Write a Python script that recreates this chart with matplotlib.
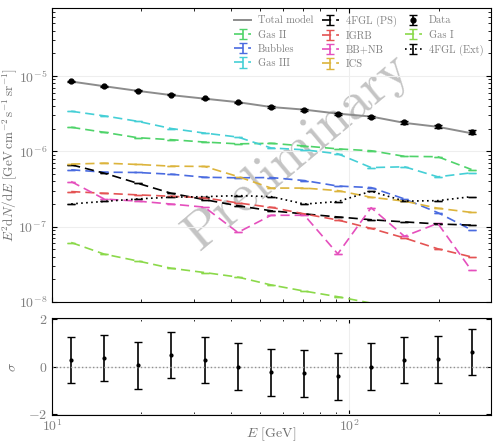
import numpy as np
import matplotlib.pyplot as plt

plt.rcParams.update({
    'font.family': 'cmr10',
    'mathtext.fontset': 'cm',
    'axes.formatter.use_mathtext': True,
    'font.size': 10,
    'xtick.direction': 'in',
    'ytick.direction': 'in',
    'xtick.top': True,
    'ytick.right': True,
    'xtick.major.pad': 2.5,
    'xtick.color': 'black',
    'ytick.color': 'black',
    'xtick.labelcolor': '#808080',
    'ytick.labelcolor': '#808080',
    'axes.labelcolor': '#707070',
})

# Energy bin centres [GeV]
energy = [11.6, 15.0, 19.4, 25.2, 32.6, 42.2, 54.6, 70.7, 91.5, 118.5, 153.4, 198.6, 257.9]

# Data and total model
data = [8.5e-6, 7.36e-6, 6.37e-6, 5.63e-6, 5.04e-6, 4.50e-6, 3.86e-6,
        3.56e-6, 3.14e-6, 2.90e-6, 2.42e-6, 2.15e-6, 1.81e-6]
data_err = [1.3e-7, 1.2e-7, 1.1e-7, 1.0e-7, 9.5e-8, 9.0e-8, 8.5e-8,
            8.5e-8, 8.5e-8, 8.5e-8, 9.0e-8, 9.5e-8, 1.1e-7]
total_model = [8.46e-6, 7.32e-6, 6.36e-6, 5.58e-6, 5.01e-6, 4.50e-6, 3.88e-6,
               3.58e-6, 3.17e-6, 2.90e-6, 2.39e-6, 2.12e-6, 1.74e-6]

# Model components
gas1 = [6.18e-8, 4.33e-8, 3.52e-8, 2.81e-8, 2.47e-8, 2.15e-8, 1.69e-8,
        1.40e-8, 1.18e-8, 9.7e-9, 8.0e-9, 6.5e-9, 5.3e-9]
gas2 = [2.09e-6, 1.79e-6, 1.52e-6, 1.43e-6, 1.33e-6, 1.26e-6, 1.28e-6,
        1.18e-6, 1.08e-6, 1.02e-6, 8.6e-7, 8.5e-7, 5.75e-7]
gas3 = [3.41e-6, 2.96e-6, 2.51e-6, 2.01e-6, 1.75e-6, 1.55e-6, 1.11e-6,
        1.05e-6, 9.3e-7, 6.1e-7, 6.25e-7, 4.6e-7, 5.2e-7]
bubbles = [5.7e-7, 5.3e-7, 5.25e-7, 4.98e-7, 4.54e-7, 4.46e-7, 4.5e-7,
           4.1e-7, 3.47e-7, 3.31e-7, 2.34e-7, 1.54e-7, 9.1e-8]
ics = [6.78e-7, 6.98e-7, 6.71e-7, 6.37e-7, 6.31e-7, 4.64e-7, 3.26e-7,
       3.26e-7, 3.02e-7, 2.46e-7, 2.19e-7, 1.76e-7, 1.55e-7]
ps_4fgl = [6.65e-7, 5.14e-7, 3.78e-7, 2.78e-7, 2.29e-7, 1.9e-7, 1.63e-7,
           1.48e-7, 1.35e-7, 1.24e-7, 1.16e-7, 1.09e-7, 1.05e-7]
igrb = [2.93e-7, 2.78e-7, 2.65e-7, 2.54e-7, 2.42e-7, 2.07e-7, 1.81e-7,
        1.48e-7, 1.23e-7, 9.5e-8, 7.1e-8, 5.1e-8, 3.98e-8]
bbnb = [3.98e-7, 2.33e-7, 2.19e-7, 2.0e-7, 1.82e-7, 8.4e-8, 1.42e-7,
        1.42e-7, 4.37e-8, 1.79e-7, 7.47e-8, 1.11e-7, 2.63e-8]
ext_4fgl = [2.01e-7, 2.17e-7, 2.34e-7, 2.47e-7, 2.51e-7, 2.59e-7, 2.51e-7,
            2.0e-7, 2.16e-7, 2.96e-7, 2.19e-7, 2.22e-7, 2.51e-7]

# Residuals [sigma]
resid = [0.29, 0.37, 0.05, 0.49, 0.28, -0.01, -0.25, -0.28, -0.41, -0.01, 0.28, 0.30, 0.61]
resid_err = [0.98, 0.98, 0.98, 0.98, 0.98, 0.99, 0.99, 0.99, 0.99, 0.99, 0.98, 0.99, 0.98]

fig = plt.figure(figsize=(4.93, 4.43), dpi=100)
ax = fig.add_axes([0.1055, 0.318, 0.8905, 0.664])
axr = fig.add_axes([0.1055, 0.0632, 0.8905, 0.2188])

def comp(y, color, label, ls='--'):
    ax.errorbar(energy, y, yerr=np.zeros(len(y)), color=color, ls=ls, lw=1.2,
                capsize=3, label=label, dashes=(5.5, 3) if ls == '--' else (1, 2))

ax.plot(energy, total_model, color='#8c8c8c', lw=1.4, label='Total model', zorder=3)
comp(gas2, '#4fd36a', 'Gas II')
comp(bubbles, '#4a6be0', 'Bubbles')
comp(gas3, '#45cfd6', 'Gas III')
comp(ps_4fgl, 'black', '4FGL (PS)')
comp(igrb, '#e45353', 'IGRB')
comp(bbnb, '#e54fbd', 'BB+NB')
comp(ics, '#dcb43c', 'ICS')
ax.errorbar(energy, data, yerr=data_err, fmt='o', color='black', ms=3.5,
            capsize=3, elinewidth=1.2, label='Data', zorder=4)
comp(gas1, '#8bd94a', 'Gas I')
comp(ext_4fgl, 'black', '4FGL (Ext)', ls=':')

ax.set_xscale('log')
ax.set_yscale('log')
ax.set_xlim(10, 300)
ax.set_ylim(1e-8, 8e-5)
ax.tick_params(axis='x', which='both', labelbottom=False)
ax.set_ylabel(r'$E^2{\rm d}N/{\rm d}E\ [{\rm GeV\,cm^{-2}\,s^{-1}\,sr^{-1}}]$',
              fontsize=9.5)
ax.yaxis.set_label_coords(-0.075, 0.5)
ax.grid(True, which='major', color='#eeeeee', lw=0.8)

leg = ax.legend(ncol=3, loc='upper right', frameon=False, fontsize=7.5,
                handlelength=1.6, columnspacing=0.8, labelspacing=0.45,
                handletextpad=0.7, borderaxespad=0.3)
for t in leg.get_texts():
    t.set_color('#808080')

ax.text(0.56, 0.51, 'Preliminary', transform=ax.transAxes, fontsize=39,
        color='#b0b0b0', alpha=0.75, rotation=40, ha='center', va='center',
        zorder=0)

axr.errorbar(energy, resid, yerr=resid_err, fmt='o', color='black', ms=2,
             capsize=3, elinewidth=1.2)
axr.axhline(0, color='#909090', ls=':', lw=1)
axr.set_xscale('log')
axr.set_xlim(10, 300)
axr.set_ylim(-2.05, 2.05)
axr.set_yticks([-2, 0, 2])
axr.set_ylabel(r'$\sigma$')
axr.yaxis.set_label_coords(-0.075, 0.5)
axr.set_xlabel(r'$E$ [GeV]', fontsize=10)
axr.xaxis.set_label_coords(0.5, -0.11)
axr.grid(True, which='major', color='#eeeeee', lw=0.8)

fig.savefig('out.png', dpi=100)
